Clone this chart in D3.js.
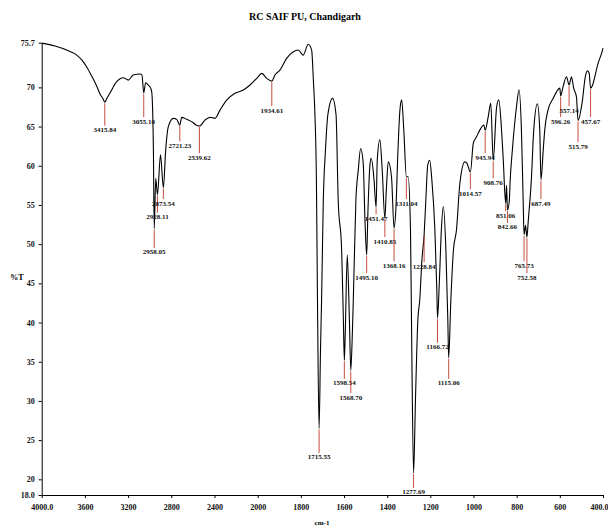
<!DOCTYPE html>
<html><head><meta charset="utf-8">
<script src="https://cdn.jsdelivr.net/npm/d3@7"></script>
<style>body{margin:0;background:#fff}svg{display:block}</style>
</head><body>
<svg id="chart" width="608" height="527"></svg>
<script>
// ---- data ----
const wavenumbers = [4000,3877,3769,3676,3627,3583,3537,3491,3460,3430,3415.84,3395,3368,3306,3244,3198,3152,3090,3072,3055.1,3038,3013,2991,2981,2966,2958.05,2944,2928.11,2900,2873.54,2852,2828,2781,2750,2721.23,2704,2657,2596,2571,2539.62,2488,2442,2395,2349,2287,2210,2133,2071,2009,1981,1958,1934.61,1920,1897,1866,1835,1812,1789,1766,1750,1742,1735,1728,1723,1715.55,1709,1704,1696,1686,1675,1653,1637,1627,1611,1603,1598.54,1594,1585,1575,1568.7,1561,1557,1545,1534,1523,1511,1503,1495.1,1489,1480,1474,1461,1451.47,1446,1434,1423,1410.85,1404,1395,1380,1368.16,1360,1350,1341,1333,1323,1311.04,1303,1292,1286,1277.69,1269,1258,1249,1239,1228.84,1221,1212,1203,1193,1179,1170,1166.72,1158,1149,1140,1128,1119,1115.06,1105,1093,1079,1063,1040,1030,1014.57,1001,986,971,952,945.94,932,920,908.76,893,883,870,862,851.06,847,842.66,834,830,820,801,789,778,770,765.73,759,752.58,746,732,721,704,693,687.49,677,670,655,631,616,600,596.26,585,569,557.14,546,536,523,515.79,497,482,472,464,457.67,448,438,423,407,400];
const transmittance = [75.65,75.27,74.76,74.12,73.48,72.6,71.44,70.17,69.15,68.5,68.1,68.64,69.28,70.72,71.23,70.93,71.57,71.7,71.6,69.3,70.6,70.3,69.9,69.4,62.4,52.0,58.4,56.3,61.4,57.2,62.0,64.97,66.05,65.92,65.19,66.18,65.92,65.49,65.19,65.07,65.83,66.18,66.05,67.1,68.38,69.24,69.66,70.3,71.15,71.79,71.15,70.8,71.57,72.2,73.7,74.54,74.76,74.12,75.5,74.76,70.9,66.7,58.2,42.9,26.5,36.5,42.9,55.6,62.0,66.5,68.6,66.5,55.6,49.25,40.3,35.2,39.05,48.6,40.3,33.9,39.05,42.9,55.6,59.45,62.2,60.3,53.1,48.6,54.35,60.1,60.95,58.2,54.7,60.7,63.3,59.45,53.3,56.9,60.5,58.6,52.05,54.35,62.0,67.1,68.4,64.55,58.6,58.6,51.8,36.5,20.8,30.1,40.3,42.9,48,51.2,55.6,60.1,60.7,58.2,51.8,44.1,40.6,45.4,51.8,54.8,49.25,40.3,35.5,42.9,49.25,51.8,57.8,60.5,60.3,59.2,62.86,63.7,64.55,65.2,64.55,66.25,67.96,60.7,67.5,68.4,64.55,60.7,55.2,57.5,54.35,55.6,58.2,62,67.5,69.7,64.55,55.6,51.2,52.4,50.9,53.1,58.2,64.55,67.9,64.55,58.2,62,64.55,67.1,68.6,69.4,69.9,68.9,70.1,71.35,70.3,71.35,69.9,68.8,65.8,68,71.35,72.1,71.8,69.9,70.3,71.35,73.06,74.3,75.0];

const peakWavenumbers = [3415.84,3055.1,2958.05,2928.11,2873.54,2721.23,2539.62,1934.61,1715.55,1598.54,1568.7,1495.1,1451.47,1410.85,1368.16,1311.04,1277.69,1228.84,1166.72,1115.06,1014.57,945.94,908.76,851.06,842.66,765.73,752.58,687.49,596.26,557.14,515.79,457.67];
const peakLabels = ["3415.84","3055.10","2958.05","2928.11","2873.54","2721.23","2539.62","1934.61","1715.55","1598.54","1568.70","1495.10","1451.47","1410.85","1368.16","1311.04","1277.69","1228.84","1166.72","1115.06","1014.57","945.94","908.76","851.06","842.66","765.73","752.58","687.49","596.26","557.14","515.79","457.67"];
// annotation anchor (%T) where each peak label sits
const peakLabelT = [64.6,65.7,49.0,53.5,55.25,62.6,61.1,67.1,22.85,32.3,30.5,45.8,53.3,50.4,47.3,55.25,18.4,47.2,36.9,32.3,56.5,61.1,57.9,53.7,52.2,47.3,45.8,55.25,65.7,67.1,62.5,65.7];

const xTickValues = [4000,3600,3200,2800,2400,2000,1800,1600,1400,1200,1000,800,600,400];
const xTickLabels = ["4000.0","3600","3200","2800","2400","2000","1800","1600","1400","1200","1000","800","600","400.0"];
const yTickValues = [75.7,70,65,60,55,50,45,40,35,30,25,20,18];
const yTickLabels = ["75.7","70","65","60","55","50","45","40","35","30","25","20","18.0"];
const titleText = "RC SAIF PU, Chandigarh";
const xTitle = "cm-1";
const yTitle = "%T";

// ---- chart ----
const svg = d3.select("#chart");
const FONT = "'Liberation Serif','DejaVu Serif',serif";
const x = d3.scaleLinear().domain([4000, 2000, 400]).range([41.7, 257.7, 603]);
const y = d3.scaleLinear().domain([18, 75.7]).range([495, 42.7]);

svg.append("rect").attr("width",608).attr("height",527).attr("fill","#fff");

// title
svg.append("text").attr("x",305).attr("y",19.5).attr("text-anchor","middle")
  .attr("font-family",FONT).attr("font-weight","bold").attr("font-size",10)
  .text(titleText);

// axes
const xAxis = svg.append("g").attr("transform","translate(0,495)")
  .call(d3.axisBottom(x).tickValues(xTickValues).tickFormat((d,i)=>xTickLabels[i]).tickSize(3).tickSizeOuter(0).tickPadding(6));
const yAxis = svg.append("g").attr("transform","translate(41.7,0)")
  .call(d3.axisLeft(y).tickValues(yTickValues).tickFormat((d,i)=>yTickLabels[i]).tickSize(3).tickSizeOuter(0).tickPadding(4));
[xAxis,yAxis].forEach(g=>{
  g.selectAll("text").attr("font-family",FONT).attr("font-weight","bold").attr("font-size",8).attr("fill","#111");
  g.selectAll("path,line").attr("stroke","#000");
});
// keep the last x label inside the frame
xAxis.selectAll(".tick").filter(d=>d===400).select("text").attr("text-anchor","end").attr("x",5);

svg.append("text").attr("x",322).attr("y",525).attr("text-anchor","middle")
  .attr("font-family",FONT).attr("font-weight","bold").attr("font-size",7).text(xTitle);
svg.append("text").attr("x",17).attr("y",280).attr("text-anchor","middle")
  .attr("font-family",FONT).attr("font-weight","bold").attr("font-size",8).text(yTitle);

// spectrum
const pts = wavenumbers.map((w,i)=>[w, transmittance[i]]);
const line = d3.line().x(d=>x(d[0])).y(d=>y(d[1])).curve(d3.curveMonotoneX);
svg.append("path").datum(pts).attr("d",line).attr("fill","none")
  .attr("stroke","#000").attr("stroke-width",1.1);

// peak markers
const tAt = w => transmittance[wavenumbers.indexOf(w)];
const peaks = svg.append("g");
peakWavenumbers.forEach((w,i)=>{
  const px = x(w), py = y(tAt(w)), ly = y(peakLabelT[i]);
  peaks.append("line").attr("x1",px).attr("x2",px).attr("y1",py+1).attr("y2",ly-4)
    .attr("stroke","#c0392b").attr("stroke-width",0.9);
  peaks.append("text").attr("x",px).attr("y",ly+2.5).attr("text-anchor","middle")
    .attr("font-family",FONT).attr("font-weight","bold").attr("font-size",7).attr("fill","#111")
    .text(peakLabels[i]);
});
</script>
</body></html>
